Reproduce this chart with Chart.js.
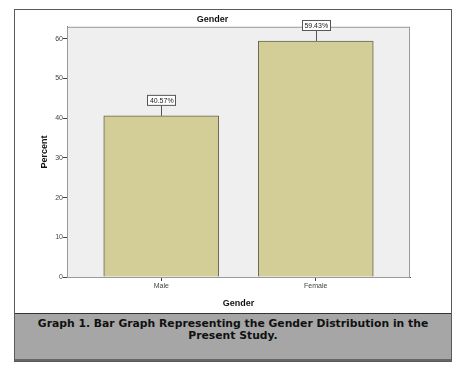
<!DOCTYPE html>
<html lang="en">
<head>
    <meta charset="UTF-8">
    <title>Gender</title>
    <style>
        body {
            margin: 0;
            background-color: #ffffff;
            width: 476px;
            height: 381px;
            overflow: hidden;
        }
        .frame {
            position: absolute;
            left: 14px;
            top: 9px;
            width: 436px;
            height: 351px;
            border: 1px solid #5a5a5a;
            background-color: #ffffff;
        }
        .chart-box {
            position: relative;
            width: 436px;
            height: 303px;
        }
        canvas { display: block; }
        .caption {
            height: 48px;
            border-top: 1px solid #333;
            background-color: #a6a6a6;
            font-family: "DejaVu Sans", Verdana, sans-serif;
            font-weight: bold;
            font-size: 10.8px;
            line-height: 12px;
            text-align: center;
            color: #111;
            padding-top: 4px;
            box-sizing: border-box;
            border-bottom: 2px solid #666;
        }
    </style>
    <script src="https://cdn.jsdelivr.net/npm/chart.js"></script>
</head>
<body>
    <div class="frame">
        <div class="chart-box">
            <canvas id="grafico" width="436" height="303"></canvas>
        </div>
        <div class="caption">Graph 1. Bar Graph Representing the Gender Distribution in the<br>Present Study.</div>
    </div>

    <script>
        // dados do gráfico
        const categorias = ['Male', 'Female'];
        const percentuais = [40.57, 59.43];
        const rotulos = ['40.57%', '59.43%'];
        const ticksY = [0, 10, 20, 30, 40, 50, 60];

        // fundo cinza e moldura da área do gráfico
        const fundoPlot = {
            id: 'fundoPlot',
            beforeDatasetsDraw(chart) {
                const { ctx, chartArea: a } = chart;
                ctx.save();
                ctx.fillStyle = '#efefef';
                ctx.fillRect(a.left, a.top, a.right - a.left, a.bottom - a.top);
                ctx.strokeStyle = '#9a9a9a';
                ctx.lineWidth = 1;
                ctx.strokeRect(a.left + 0.5, a.top + 0.5, a.right - a.left - 1, a.bottom - a.top);
                ctx.restore();
            }
        };

        // caixinhas com o valor acima de cada barra
        const rotulosBarras = {
            id: 'rotulosBarras',
            afterDatasetsDraw(chart) {
                const { ctx } = chart;
                const barras = chart.getDatasetMeta(0).data;
                ctx.save();
                ctx.font = '7px Arial, "Liberation Sans", sans-serif';
                ctx.textAlign = 'center';
                ctx.textBaseline = 'middle';
                barras.forEach((b, i) => {
                    const texto = rotulos[i];
                    const w = ctx.measureText(texto).width + 4;
                    const h = 10;
                    const base = b.y - 11;
                    ctx.strokeStyle = '#555';
                    ctx.lineWidth = 1;
                    ctx.beginPath();
                    ctx.moveTo(Math.round(b.x) + 0.5, base);
                    ctx.lineTo(Math.round(b.x) + 0.5, b.y);
                    ctx.stroke();
                    ctx.fillStyle = '#ffffff';
                    ctx.fillRect(Math.round(b.x - w / 2) + 0.5, base - h + 0.5, Math.round(w), h);
                    ctx.strokeRect(Math.round(b.x - w / 2) + 0.5, base - h + 0.5, Math.round(w), h);
                    ctx.fillStyle = '#222';
                    ctx.fillText(texto, b.x + 0.5, base - h / 2 + 1);
                });
                ctx.restore();
            }
        };

        const ctx = document.getElementById('grafico').getContext('2d');
        new Chart(ctx, {
            type: 'bar',
            data: {
                datasets: [{
                    label: 'Percent',
                    data: percentuais.map((v, i) => ({ x: i, y: v })),
                    backgroundColor: '#d3ce97',
                    borderColor: '#66644f',
                    borderWidth: 1,
                    barThickness: 115
                }]
            },
            plugins: [fundoPlot, rotulosBarras],
            options: {
                responsive: false,
                animation: false,
                layout: { padding: { left: 0, right: 41, top: 0, bottom: 0 } },
                plugins: {
                    legend: { display: false },
                    tooltip: { enabled: false },
                    title: {
                        display: true,
                        text: 'Gender',
                        color: '#111',
                        font: { family: 'Arial, "Liberation Sans", sans-serif', size: 9, weight: 'bold' },
                        padding: { top: 4, bottom: 2 }
                    }
                },
                scales: {
                    x: {
                        type: 'linear',
                        min: -0.61,
                        max: 1.61,
                        offset: false,
                        afterBuildTicks: (s) => { s.ticks = categorias.map((c, i) => ({ value: i })); },
                        afterFit: (s) => { s.height = 36; },
                        ticks: {
                            callback: (v) => categorias[v],
                            color: '#444',
                            font: { family: 'Arial, "Liberation Sans", sans-serif', size: 7 },
                            padding: 1,
                            maxRotation: 0
                        },
                        grid: { offset: false, drawOnChartArea: false, drawTicks: true, tickLength: 4, color: '#444' },
                        border: { display: true, color: '#555' },
                        title: {
                            display: true,
                            text: 'Gender',
                            color: '#111',
                            font: { family: 'Arial, "Liberation Sans", sans-serif', size: 9, weight: 'bold' },
                            padding: { top: 2 }
                        }
                    },
                    y: {
                        min: 0,
                        max: 63,
                        afterBuildTicks: (s) => { s.ticks = ticksY.map(v => ({ value: v })); },
                        afterFit: (s) => { s.width = 52; },
                        ticks: {
                            color: '#444',
                            font: { family: 'Arial, "Liberation Sans", sans-serif', size: 7 },
                            padding: 0
                        },
                        grid: { drawOnChartArea: false, drawTicks: true, tickLength: 4, color: '#444' },
                        border: { display: true, color: '#555' },
                        title: {
                            display: true,
                            text: 'Percent',
                            color: '#111',
                            font: { family: 'Arial, "Liberation Sans", sans-serif', size: 9, weight: 'bold' },
                            padding: { top: 24, bottom: 0 }
                        }
                    }
                }
            }
        });
    </script>
</body>
</html>
